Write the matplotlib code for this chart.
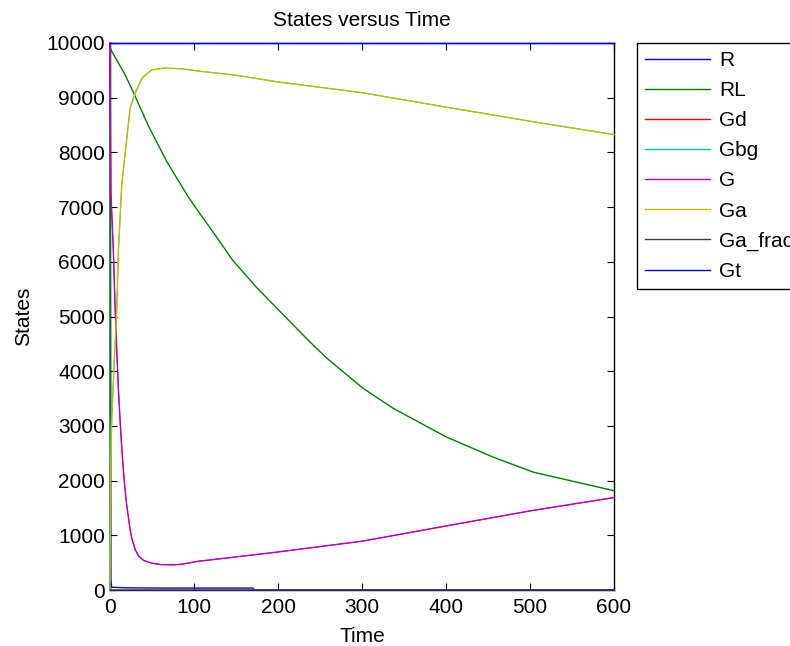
import matplotlib.pyplot as plt

plt.rcParams['font.family'] = ['Liberation Sans', 'DejaVu Sans']

# time points (each series has its own sample times)
t_r = [0, 1, 2, 20, 60, 100, 170, 172, 600]
r = [10000, 200, 50, 40, 35, 35, 35, 0, 0]

t_rl = [0, 0.5, 2, 18, 30, 46, 67.5, 93, 107, 125, 146, 174, 200, 230, 243,
        258, 301, 337, 400, 456, 504, 600]
rl = [0, 9900, 9850, 9420, 9024, 8476, 7835, 7190, 6880, 6494, 6030, 5540,
      5130, 4660, 4460, 4240, 3690, 3323, 2800, 2430, 2154, 1815]

t_g = [0, 1, 4, 6, 8, 10, 12, 14, 16, 18, 20, 24, 26, 30, 34, 40, 50, 60,
       75, 85, 105, 125, 200, 300, 400, 500, 600]
g = [10000, 7300, 6200, 5200, 4400, 3670, 3100, 2600, 2180, 1830, 1540, 1100,
     940, 740, 620, 540, 490, 465, 460, 470, 525, 560, 695, 892, 1170, 1446,
     1690]
gd = g  # hidden right under G

t_ga = [0, 1, 2, 4, 6, 8, 10, 14, 20, 24, 30, 38, 50, 64, 85, 109, 150, 200,
        300, 400, 500, 600]
ga = [0, 2500, 3000, 3800, 4500, 5100, 6200, 7410, 8260, 8810, 9085, 9360,
      9510, 9540, 9530, 9480, 9411, 9288, 9092, 8828, 8570, 8325]
gbg = [0, 3000, 3300] + ga[3:]
ga_frac = [0, 0.25, 0.3, 0.38, 0.45, 0.51, 0.62, 0.74, 0.83, 0.88, 0.91,
           0.94, 0.95, 0.95, 0.95, 0.95, 0.94, 0.93, 0.91, 0.88, 0.86, 0.83]

t_gt = [0, 600]
gt = [10000, 10000]

fig = plt.figure(figsize=(7.9, 6.46), dpi=100)
ax = fig.add_axes([110 / 790, 56 / 646, 504 / 790, 547 / 646])

lw = 1.0
kw = dict(clip_on=False, zorder=3)
ax.plot(t_r, r, color=(0, 0, 1), lw=lw, label='R', **kw)
ax.plot(t_rl, rl, color=(0, 0.5, 0), lw=lw, label='RL', **kw)
ax.plot(t_g, gd, color=(1, 0, 0), lw=0.7, label='Gd', **kw)
ax.plot(t_ga, gbg, color=(0, 0.75, 0.75), lw=0.7, label='Gbg', **kw)
ax.plot(t_g, g, color=(0.75, 0, 0.75), lw=lw, label='G', **kw)
ax.plot(t_ga, ga, color=(0.75, 0.75, 0), lw=lw, label='Ga', **kw)
ax.plot(t_ga, ga_frac, color=(0.25, 0.25, 0.25), lw=lw, label='Ga_frac', **kw)
ax.plot(t_gt, gt, color=(0, 0, 1), lw=lw, label='Gt', **kw)

ax.set_xlim(0, 600)
ax.set_ylim(0, 10000)
ax.set_xticks(range(0, 601, 100))
ax.set_yticks(range(0, 10001, 1000))
ax.tick_params(direction='in', top=True, right=True, length=5, labelsize=15)
ax.tick_params(axis='x', pad=6)
for s in ax.spines.values():
    s.set_linewidth(1.0)

ax.set_title('States versus Time', fontsize=15, pad=12)
ax.set_xlabel('Time', fontsize=15, labelpad=7)
ax.set_ylabel('States', fontsize=15, labelpad=10)

leg = ax.legend(loc='upper left', bbox_to_anchor=(637 / 790, 1 - 43 / 646),
                bbox_transform=fig.transFigure, borderaxespad=0, fontsize=15,
                handlelength=3.1, handletextpad=0.45, labelspacing=0.53,
                borderpad=0.4, fancybox=False, framealpha=1)
leg.get_frame().set_edgecolor('black')
leg.get_frame().set_linewidth(1.0)
for h in leg.get_lines():
    h.set_linewidth(1.0)

fig.savefig('out.png', dpi=100)
